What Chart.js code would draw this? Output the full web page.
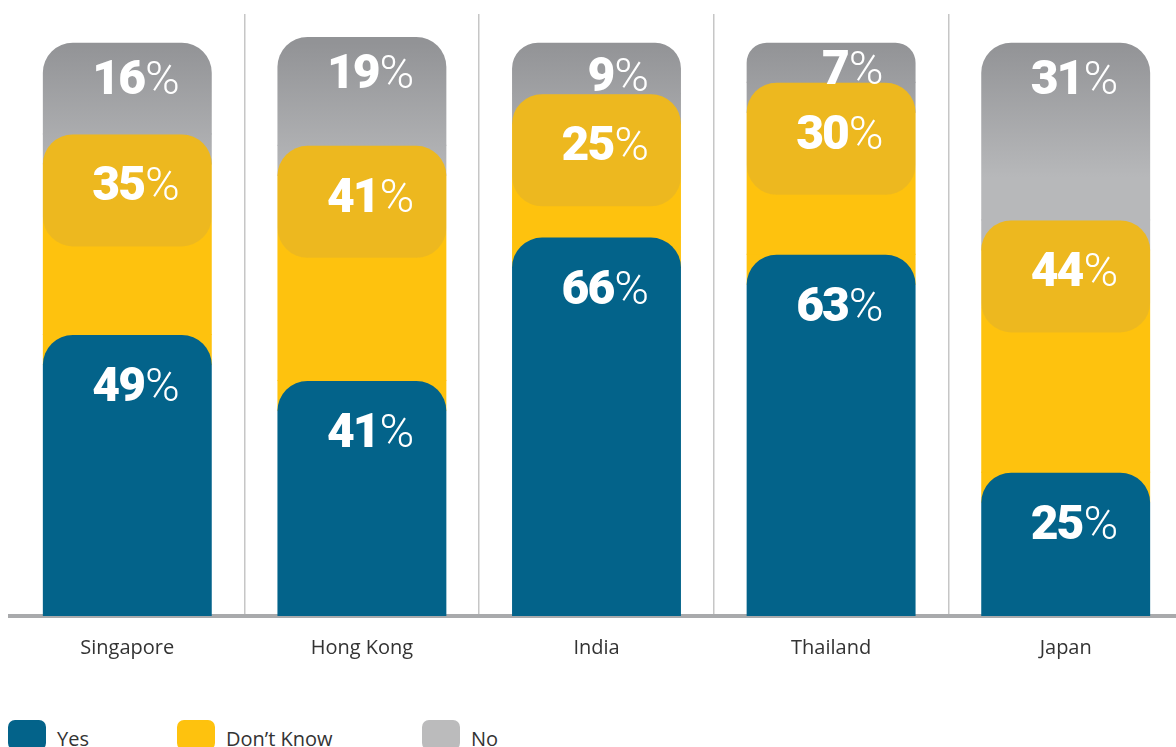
<!DOCTYPE html>
<html>
<head>
<meta charset="utf-8">
<script src="https://cdn.jsdelivr.net/npm/chart.js@4/dist/chart.umd.min.js"></script>
<style>
  html, body { margin: 0; padding: 0; background: #fff; overflow: hidden; }
  #wrap { position: absolute; left: 0; top: 0; width: 1184px; height: 690px; }
  .legend { position: absolute; top: 720px; left: 0; width: 1176px; height: 40px;
            font-family: 'Open Sans', sans-serif; font-size: 20px; color: #333; }
  .legend .item { position: absolute; top: 0; height: 30px; display: flex; align-items: center; }
  .legend .sw { width: 38px; height: 30px; border-radius: 7px; margin-right: 11px; }
  .legend span { position: relative; top: 3px; }
</style>
</head>
<body>
<div id="wrap"><canvas id="survey-chart"></canvas></div>
<div class="legend" id="legend"></div>

<script>
// values (% of respondents)
const categories = ['Singapore', 'Hong Kong', 'India', 'Thailand', 'Japan'];
const yesValues = [49, 41, 66, 63, 25];
const dontKnowValues = [35, 41, 25, 30, 44];
const noValues = [16, 19, 9, 7, 31];
const seriesNames = ['Yes', 'Don\u2019t Know', 'No'];

const BLUE = '#03638A';
const YELLOW = '#FEC20E';
const GREY_TOP = '#929396';
const GREY_LOW = '#B7B8BA';
const RADIUS = 30;

function greyFill(ctx) {
  const chart = ctx.chart;
  if (!chart.chartArea) return GREY_LOW;
  const top = chart.scales.y.getPixelForValue(100);
  const g = chart.ctx.createLinearGradient(0, top, 0, top + 135);
  g.addColorStop(0, GREY_TOP);
  g.addColorStop(1, GREY_LOW);
  return g;
}

// lower segments have rounded tops; the segment above shows through the corners,
// then the darker tab on "Don't Know" and the white % labels
const segmentDecor = {
  id: 'segmentDecor',
  beforeDatasetsDraw(chart) {
    const { ctx } = chart;
    ctx.save();
    for (let d = 1; d < chart.data.datasets.length; d++) {
      chart.getDatasetMeta(d).data.forEach((bar) => {
        const p = bar.getProps(['x', 'base', 'width'], true);
        ctx.fillStyle = bar.options.backgroundColor;
        ctx.fillRect(p.x - p.width / 2, p.base - 1, p.width, RADIUS + 1);
      });
    }
    ctx.restore();
  },
  afterDatasetsDraw(chart) {
    const { ctx } = chart;
    ctx.save();

    // darker tab at the top of each "Don't Know" segment
    ctx.fillStyle = 'rgba(120, 125, 150, 0.13)';
    chart.getDatasetMeta(1).data.forEach((bar) => {
      const p = bar.getProps(['x', 'y', 'width'], true);
      ctx.beginPath();
      ctx.roundRect(p.x - p.width / 2, p.y, p.width, 112, RADIUS);
      ctx.fill();
    });

    // labels
    ctx.fillStyle = '#fff';
    ctx.textAlign = 'right';
    ctx.textBaseline = 'alphabetic';
    chart.data.datasets.forEach((ds, d) => {
      chart.getDatasetMeta(d).data.forEach((bar, i) => {
        const p = bar.getProps(['x', 'y', 'base', 'width'], true);
        const h = p.base - p.y;
        const cy = d === 2 ? p.y + Math.min(34, h * 0.6) : p.y + 49;
        const right = p.x + p.width / 2 - 32;
        const base = cy + 17;
        ctx.font = '300 47px Roboto';
        const pw = ctx.measureText('%').width;
        ctx.fillText('%', right, base);
        ctx.font = '900 48px Roboto';
        ctx.letterSpacing = '-2px';
        ctx.fillText(String(ds.data[i]), right - pw - 1, base);
        ctx.letterSpacing = '0px';
      });
    });
    ctx.restore();
  },
};

function initSurveyChart() {
  'use strict';

  const colors = [BLUE, YELLOW, greyFill];
  const values = [yesValues, dontKnowValues, noValues];

  new Chart(document.getElementById('survey-chart'), {
    type: 'bar',
    data: {
      labels: categories,
      datasets: seriesNames.map((name, k) => ({
        label: name,
        data: values[k],
        backgroundColor: colors[k],
        borderWidth: 0,
        borderRadius: { topLeft: RADIUS, topRight: RADIUS, bottomLeft: 0, bottomRight: 0 },
        borderSkipped: false,
        categoryPercentage: 1,
        barPercentage: 0.72,
      })),
    },
    options: {
      responsive: true,
      maintainAspectRatio: false,
      animation: false,
      layout: { padding: { top: 14, left: 10, right: 1, bottom: 10 } },
      plugins: {
        legend: { display: false },
        tooltip: { enabled: false },
      },
      scales: {
        x: {
          stacked: true,
          grid: {
            offset: true,
            drawTicks: false,
            lineWidth: 1.5,
            color: (ctx) => (ctx.type === 'tick' && ctx.index > 0 ? '#C6C6C6' : 'transparent'),
          },
          border: { display: true, color: '#A9AAAC', width: 4 },
          ticks: {
            padding: 20,
            color: '#333',
            font: { family: "'Open Sans', sans-serif", size: 20 },
          },
        },
        y: {
          stacked: true,
          display: false,
          min: 0,
          max: 105,
        },
      },
    },
    plugins: [segmentDecor],
  });

  // legend as plain html
  const legendColors = [BLUE, YELLOW, '#BBBBBC'];
  const legendLeft = [8, 177, 422];
  const legend = document.getElementById('legend');
  seriesNames.forEach((name, k) => {
    const item = document.createElement('div');
    item.className = 'item';
    item.style.left = legendLeft[k] + 'px';
    item.innerHTML = '<div class="sw" style="background:' + legendColors[k] + '"></div><span>' + name + '</span>';
    legend.appendChild(item);
  });
}

window.addEventListener('load', initSurveyChart);
</script>
</body>
</html>
